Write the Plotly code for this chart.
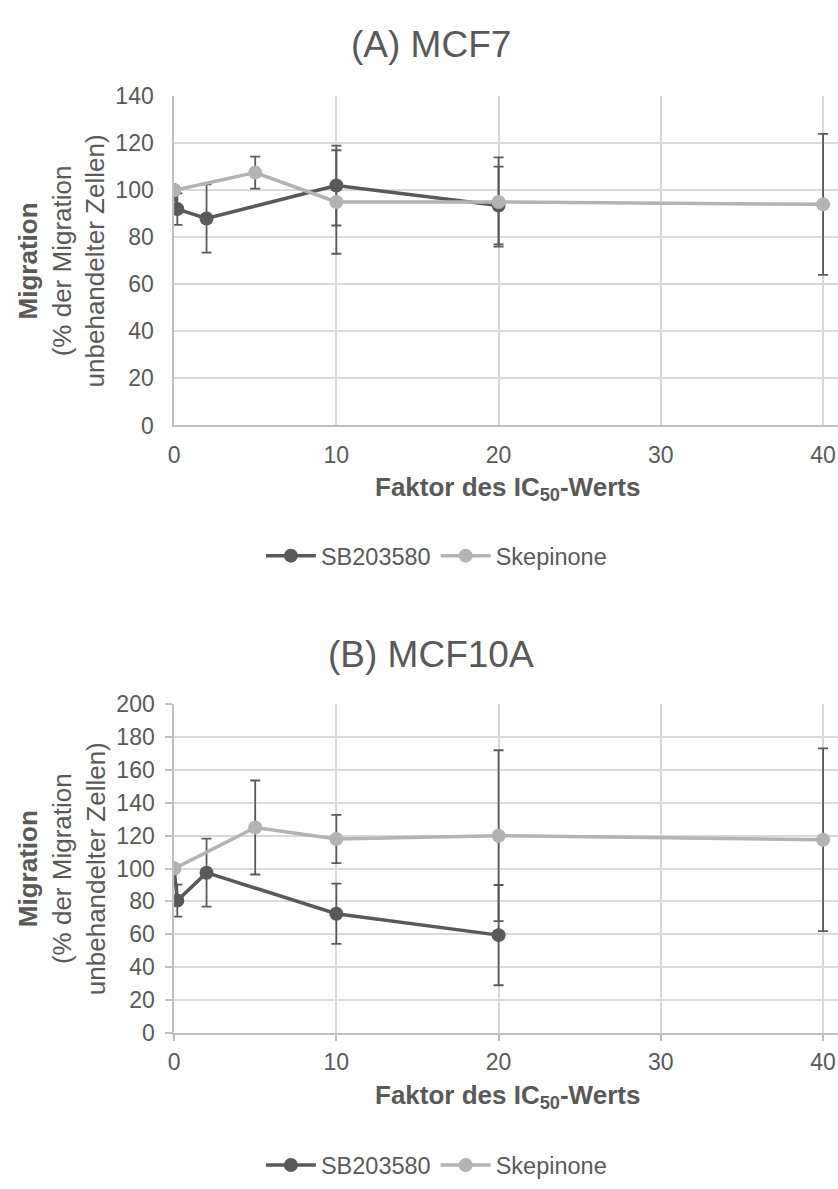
import plotly.graph_objects as go

# ---- data ----
x_sb = [0, 0.2, 2, 10, 20]
x_sk = [0, 5, 10, 20, 40]

a_sb = [100, 92, 88, 102, 93.5]
a_sb_err = [0, 6.7, 14.5, 17, 16.5]
a_sk = [100, 107.5, 95, 95, 94]
a_sk_err = [0, 6.8, 22, 19, 30]

b_sb = [100, 80.5, 97.5, 72.5, 59.5]
b_sb_err = [0, 9.7, 20.7, 18.3, 30.5]
b_sk = [100, 125, 118, 120, 117.5]
b_sk_err = [0, 28.6, 14.7, 52, 55.6]

names = ["SB203580", "Skepinone"]
titles = ["(A) MCF7", "(B) MCF10A"]
xticks = [0, 10, 20, 30, 40]

DARK = "#595959"
GRAY = "#B3B3B3"
TXT = "#595959"
FONT = "Liberation Sans, Arial, sans-serif"

W, H = 838, 1189

def py(p):
    return 1 - p / H

fig = go.Figure()

def add_series(x, y, err, name, color, xa, ya, legend):
    fig.add_trace(go.Scatter(
        x=x, y=y, name=name, mode="lines+markers",
        line=dict(color=color, width=3.5),
        marker=dict(color=color, size=14),
        error_y=dict(type="data", array=err, visible=True, color=DARK,
                     thickness=1.8, width=5),
        xaxis=xa, yaxis=ya, legend=legend,
    ))

add_series(x_sb, a_sb, a_sb_err, names[0], DARK, "x", "y", "legend")
add_series(x_sk, a_sk, a_sk_err, names[1], GRAY, "x", "y", "legend")
add_series(x_sb, b_sb, b_sb_err, names[0], DARK, "x2", "y2", "legend2")
add_series(x_sk, b_sk, b_sk_err, names[1], GRAY, "x2", "y2", "legend2")

xdom = [169.3 / W, 1.0]
ydomA = [py(421.7), py(85)]
ydomB = [py(1042.7), py(706.7)]

common_x = dict(
    range=[0, 40.92], tickvals=xticks, showgrid=True, gridcolor="#D9D9D9",
    gridwidth=1.5, showline=True, linecolor="#BFBFBF", linewidth=1.5,
    zeroline=False, tickfont=dict(size=23, color=TXT, family=FONT),
    domain=xdom,
)
common_y = dict(
    showgrid=True, gridcolor="#D9D9D9", gridwidth=1.5, showline=True,
    linecolor="#BFBFBF", linewidth=1.5, zeroline=False,
    tickfont=dict(size=23, color=TXT, family=FONT),
)

legend_common = dict(orientation="h", xanchor="center", yanchor="middle",
                     font=dict(size=23.5, color=TXT, family=FONT),
                     itemwidth=50, tracegroupgap=0, bgcolor="rgba(0,0,0,0)")

fig.update_layout(
    width=W, height=H,
    margin=dict(l=0, r=0, t=0, b=0),
    paper_bgcolor="white", plot_bgcolor="white",
    font=dict(family=FONT, color=TXT),
    xaxis=dict(**common_x, anchor="y", ticks="outside", ticklen=0,
               ticklabelstandoff=8),
    yaxis=dict(**common_y, domain=ydomA, range=[0, 140], dtick=20,
               anchor="x", ticks="outside", ticklen=0, ticklabelstandoff=14),
    xaxis2=dict(**common_x, anchor="y2", ticks="outside", ticklen=6,
                tickcolor="#BFBFBF", tickwidth=1.5, ticklabelstandoff=2),
    yaxis2=dict(**common_y, domain=ydomB, range=[0, 200], dtick=20,
                anchor="x2", ticks="outside", ticklen=7, tickcolor="#BFBFBF",
                tickwidth=1.5, ticklabelstandoff=6),
    legend=dict(**legend_common, x=433.5 / W, y=py(555)),
    legend2=dict(**legend_common, x=433.5 / W, y=py(1178)),
    showlegend=True,
)

ytitle = "<b>Migration</b><br>(% der Migration<br>unbehandelter Zellen)"
xtitle = "<b>Faktor des IC<sub>50</sub>-Werts</b>"

ann = []
for t, yc in zip(titles, [32, 656]):
    ann.append(dict(text=t, x=428 / W, y=py(yc), xref="paper", yref="paper",
                    xanchor="center", yanchor="middle", showarrow=False,
                    font=dict(size=37, color=TXT, family=FONT)))
for yc in [(85 + 421.7) / 2, (706.7 + 1042.7) / 2]:
    ann.append(dict(text=ytitle, x=56 / W, y=py(yc), xref="paper",
                    yref="paper", xanchor="center", yanchor="middle",
                    textangle=-90, showarrow=False, align="center",
                    font=dict(size=26, color=TXT, family=FONT)))
for yc in [486, 1108]:
    ann.append(dict(text=xtitle, x=505 / W, y=py(yc), xref="paper",
                    yref="paper", xanchor="center", yanchor="middle",
                    showarrow=False,
                    font=dict(size=26, color=TXT, family=FONT)))
fig.update_layout(annotations=ann)

fig.write_html("out.html")
